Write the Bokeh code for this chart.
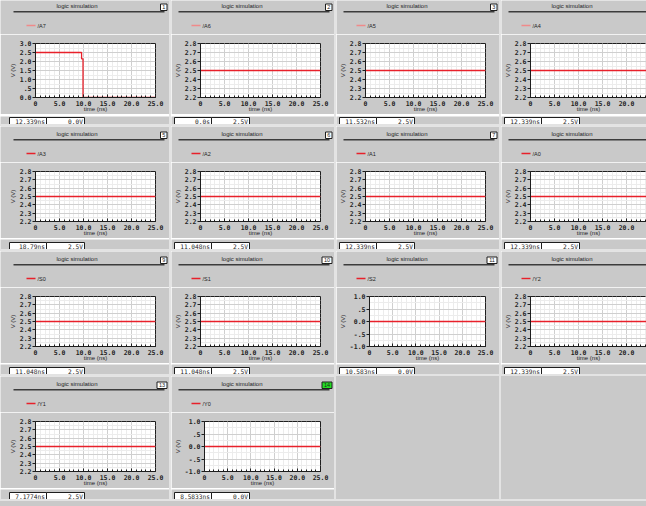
import numpy as np
from bokeh.plotting import figure
from bokeh.layouts import column, row
from bokeh.models import (FixedTicker, Label, BoxAnnotation, Spacer,
                          ColumnDataSource, Range1d)
from bokeh.embed import file_html
from bokeh.resources import INLINE

# ---------------- data ----------------
signal_names = ["/A7", "/A6", "/A5", "/A4", "/A3", "/A2", "/A1", "/A0",
                "/S0", "/S1", "/S2", "/Y2", "/Y1", "/Y0"]
panel_ids = ["1", "2", "3", "4", "5", "6", "7", "8", "9", "10", "11", "12", "13", "14"]
cursor_times = ["12.339ns", "0.0s", "11.532ns", "12.339ns", "18.79ns", "11.048ns",
                "12.339ns", "12.339ns", "11.048ns", "11.048ns", "10.583ns",
                "12.339ns", "7.1774ns", "8.5833ns"]
cursor_values = ["0.0V", "2.5V", "2.5V", "2.5V", "2.5V", "2.5V", "2.5V", "2.5V",
                 "2.5V", "2.5V", "0.0V", "2.5V", "2.5V", "0.0V"]

# /A7 falls from 2.5 V to 0 V near 10 ns
a7_time_ns = [0.0, 9.6, 9.6, 9.9, 9.9, 25.0]
a7_volts = [2.5, 2.5, 2.15, 2.15, 0.0, 0.0]
# every other signal holds a single level for the whole run
hold_time_ns = [0.0, 25.0]
hold_levels = [None, 2.5, 2.5, 2.5, 2.5, 2.5, 2.5, 2.5, 2.5, 2.5, 0.0, 2.5, 2.5, 0.0]
y_scale = ["full", "mid", "mid", "mid", "mid", "mid", "mid", "mid",
           "mid", "mid", "zero", "mid", "mid", "zero"]

x_ticks = [0.0, 5.0, 10.0, 15.0, 20.0, 25.0]
x_tick_labels = ["0", "5.0", "10.0", "15.0", "20.0", "25.0"]
full_ticks = [0.0, 0.5, 1.0, 1.5, 2.0, 2.5, 3.0]
full_tick_labels = ["0.0", ".5", "1.0", "1.5", "2.0", "2.5", "3.0"]
mid_ticks = [2.2, 2.3, 2.4, 2.5, 2.6, 2.7, 2.8]
mid_tick_labels = ["2.2", "2.3", "2.4", "2.5", "2.6", "2.7", "2.8"]
zero_ticks = [-1.0, -0.5, 0.0, 0.5, 1.0]
zero_tick_labels = ["-1.0", "-.5", "0.0", ".5", "1.0"]
tick_sets = {"full": (full_ticks, full_tick_labels),
             "mid": (mid_ticks, mid_tick_labels),
             "zero": (zero_ticks, zero_tick_labels)}

# ---------------- style / layout ----------------
BG = "#c9c9c9"
SEP = "#e3e3e3"
RED = "#e8202a"
PINK = "#f08a8a"
DARK = "#1e1e1e"
SANS = "Liberation Sans"
MONO = "DejaVu Sans Mono"

col_w = [169, 163, 163, 145]
col_shift = [6, 0, 0, 0]           # nominal panel origin relative to figure left
row_h = [124, 123, 123, 123]
head_h = [34, 36, 36, 36]
head_dy = [-2, 0, 0, 0]
plot_top = [9, 9, 9, 9]
frame_h = [56, 52, 52, 52]
plot_bottom = [15, 15, 15, 15]
foot_box_y = [1, 3, 3, 3]


def chrome_fig(w, h):
    f = figure(width=w, height=h, x_range=Range1d(0, w), y_range=Range1d(h, 0),
               output_backend="svg", toolbar_location=None,
               x_axis_location=None, y_axis_location=None,
               min_border=0, min_border_left=0, min_border_right=0,
               min_border_top=0, min_border_bottom=0,
               background_fill_color=BG, border_fill_color=BG,
               outline_line_color=None, frame_align=False)
    f.grid.visible = False
    return f


def box(f, l, r, t, b, fill, line=None):
    f.add_layout(BoxAnnotation(left=l, right=r, top=t, bottom=b,
                               fill_color=fill, fill_alpha=1.0,
                               line_color=line if line else fill,
                               line_alpha=1.0 if line else 0.0, line_width=1))


def text(f, x, y, s, size, font, align="left", style="normal"):
    f.add_layout(Label(x=x, y=y, text=s, text_font=font, text_font_size=size,
                       text_font_style=style, text_color=DARK,
                       text_align=align, text_baseline="middle"))


def make_header(i, r, c):
    w, h = col_w[c], head_h[r]
    sh, dy = col_shift[c], head_dy[r]
    f = chrome_fig(w, h)
    text(f, 70.5 + sh, 7 + dy, "logic simulation", "6px", SANS, align="center")
    box(f, 7 + sh, 158 + sh, 12.5 + dy, 14 + dy, "#3c3c3c")
    nb_right = 160.5 + sh
    if nb_right <= w:  # the panel number sits outside the window for the last column
        nb_w = 3 + 3.5 * len(panel_ids[i])
        nb_fill = "#22dd22" if i == 13 else "white"
        box(f, nb_right - nb_w, nb_right, 5.5 + dy, 12 + dy, nb_fill, DARK)
        text(f, nb_right - nb_w / 2, 8.9 + dy, panel_ids[i], "5.5px", SANS, align="center")
    # signal key for the trace drawn below
    box(f, 20 + sh, 29 + sh, 26.3 + dy, 27.7 + dy, PINK if r == 0 else RED)
    text(f, 31 + sh, 27 + dy, signal_names[i], "5.5px", SANS)
    return f


def make_footer(i, r, c, h):
    w = col_w[c]
    sh = col_shift[c]
    f = chrome_fig(w, h)
    by = foot_box_y[r]
    box(f, 3 + sh, 40 + sh, by, by + 7, "white", DARK)
    box(f, 40 + sh, 78 + sh, by, by + 7, "white", DARK)
    text(f, 38.5 + sh, by + 3.7, cursor_times[i], "6.2px", MONO, align="right")
    text(f, 76.5 + sh, by + 3.7, cursor_values[i], "6.2px", MONO, align="right")
    return f


def make_plot(i, r, c):
    w = col_w[c]
    sh = col_shift[c]
    left = 29 + sh
    right = 0 if c == 3 else 14
    fw = w - left - right
    h = plot_top[r] + frame_h[r] + plot_bottom[r]
    x_end = 25.0 * fw / 120.0
    ticks, labels = tick_sets[y_scale[i]]

    p = figure(width=w, height=h, x_range=Range1d(0, x_end),
               y_range=Range1d(ticks[0], ticks[-1]),
               output_backend="svg", toolbar_location=None, title=None,
               min_border_left=left, min_border_right=right,
               min_border_top=plot_top[r], min_border_bottom=plot_bottom[r],
               border_fill_color=BG, background_fill_color="white",
               outline_line_color=DARK, outline_line_width=1, frame_align=False)

    p.xaxis.ticker = FixedTicker(ticks=x_ticks,
                                 minor_ticks=np.arange(0.0, 26.0, 1.0).tolist())
    p.xaxis.major_label_overrides = dict(zip(x_ticks, x_tick_labels))
    mids = ((np.array(ticks[:-1]) + np.array(ticks[1:])) / 2).tolist()
    p.yaxis.ticker = FixedTicker(ticks=ticks, minor_ticks=mids)
    p.yaxis.major_label_overrides = dict(zip(ticks, labels))
    for ax in (p.xaxis, p.yaxis):
        ax.axis_line_color = DARK
        ax.major_tick_line_color = DARK
        ax.minor_tick_line_color = DARK
        ax.major_label_text_font = MONO
        ax.major_label_text_font_size = "6.5px"
        ax.major_label_text_font_style = "bold"
        ax.major_label_text_color = DARK
        ax.axis_label_text_font = SANS
        ax.axis_label_text_font_size = "6px"
        ax.axis_label_text_font_style = "normal"
        ax.axis_label_text_color = DARK
    p.xaxis.major_tick_in = 3
    p.xaxis.major_tick_out = 0
    p.xaxis.minor_tick_in = 2
    p.xaxis.minor_tick_out = 0
    p.xaxis.major_label_standoff = 3
    p.xaxis.axis_label = "time (ns)"
    p.xaxis.axis_label_standoff = -3
    p.yaxis.major_tick_in = 0
    p.yaxis.major_tick_out = 3
    p.yaxis.minor_tick_in = 0
    p.yaxis.minor_tick_out = 0
    p.yaxis.major_label_standoff = 1
    p.yaxis.axis_label = "V (V)"
    p.yaxis.axis_label_standoff = 1
    for g in (p.xgrid, p.ygrid):
        g.grid_line_color = "#cfcfcf"
        g.minor_grid_line_color = "#ececec"

    if hold_levels[i] is None:
        src = ColumnDataSource(dict(t=a7_time_ns, v=a7_volts))
    else:
        src = ColumnDataSource(dict(t=hold_time_ns,
                                    v=[hold_levels[i]] * len(hold_time_ns)))
    p.line("t", "v", source=src, line_color=RED, line_width=1.3)
    return p, h


rows = []
k = 0
for r in range(4):
    items = []
    for c in range(4):
        if c > 0:
            items.append(Spacer(width=2, height=row_h[r],
                                styles={"background-color": SEP}))
        if k < len(signal_names):
            head = make_header(k, r, c)
            plot, ph = make_plot(k, r, c)
            foot = make_footer(k, r, c, row_h[r] - head_h[r] - ph)
            items.append(column(head, plot, foot, spacing=0))
        else:
            items.append(Spacer(width=col_w[c], height=row_h[r],
                                styles={"background-color": BG}))
        k += 1
    rows.append(row(*items, spacing=0))
    rows.append(Spacer(width=646, height=2, styles={"background-color": SEP}))
rows.append(Spacer(width=646, height=5, styles={"background-color": BG}))

page = column(*rows, spacing=0)

open("out.html", "w").write(file_html(page, INLINE))
